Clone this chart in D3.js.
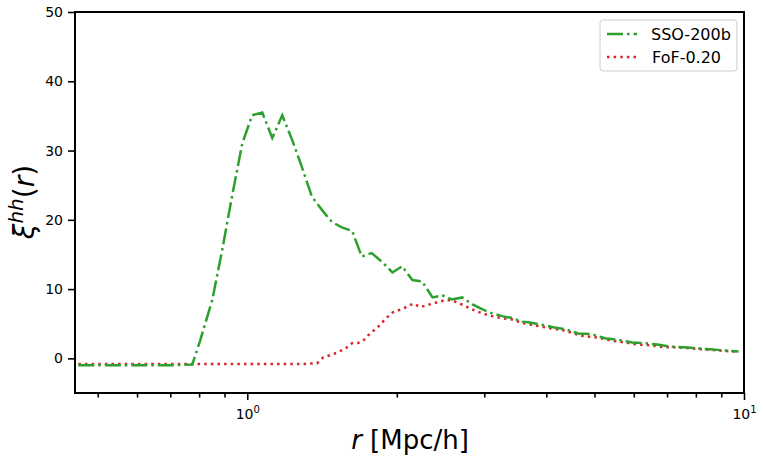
<!DOCTYPE html>
<html><head><meta charset="utf-8">
<script src="https://cdn.jsdelivr.net/npm/d3@7"></script>
<style>body{margin:0;background:#fff}svg{display:block}text{font-family:"DejaVu Sans",sans-serif}</style>
</head><body><svg id="c" width="764" height="464"></svg>
<script>
const ssoR = [0.457,0.50,0.55,0.60,0.65,0.70,0.775,0.804,0.85,0.89,0.933,0.977,1.023,1.072,1.123,1.176,1.232,1.29,1.35,1.415,1.48,1.55,1.626,1.70,1.78,1.87,1.96,2.05,2.15,2.25,2.36,2.47,2.58,2.71,2.84,2.97,3.11,3.26,3.42,3.58,3.68,3.89,4.13,4.37,4.63,4.94,5.25,5.55,5.96,6.27,6.69,7.10,7.55,8.05,8.55,9.09,9.75];
const ssoV = [-1.0,-1.0,-1.0,-1.0,-1.0,-1.0,-0.9,2.6,8.4,15.6,23.6,31.0,35.1,35.5,31.8,35.1,31.5,27.5,23.3,21.4,19.7,18.9,18.4,14.7,15.2,13.9,12.4,13.3,11.3,11.1,8.8,9.1,8.5,8.8,7.8,7.1,6.5,6.1,5.8,5.3,5.2,4.9,4.5,4.2,3.6,3.5,2.9,2.7,2.3,2.2,2.0,1.7,1.6,1.45,1.3,1.16,1.0];
const fofR = [0.457,0.55,0.65,0.75,0.85,1.0,1.15,1.30,1.383,1.42,1.50,1.575,1.627,1.67,1.71,1.75,1.83,1.91,1.96,2.06,2.16,2.23,2.36,2.50,2.58,2.72,2.87,3.06,3.26,3.43,3.54,3.76,4.11,4.37,4.67,5.09,5.38,5.74,6.09,6.47,6.88,7.33,7.80,8.28,8.83,9.38,9.75];
const fofV = [-0.8,-0.8,-0.8,-0.8,-0.8,-0.8,-0.8,-0.8,-0.7,0.1,0.7,1.4,2.2,2.2,2.5,3.3,4.5,5.9,6.6,7.2,7.9,7.4,7.9,8.4,8.4,7.7,6.9,6.2,5.8,5.6,5.2,4.8,4.3,4.0,3.3,3.0,2.6,2.3,2.0,1.9,1.6,1.6,1.45,1.3,1.16,1.0,1.0];
const yTicks = [0,10,20,30,40,50];
const xMajor = [1,10];
const xMinor = [0.5,0.6,0.7,0.8,0.9,2,3,4,5,6,7,8,9];
const seriesNames = ["SSO-200b","FoF-0.20"];
const colors = ["#2ca02c","#d62728"];

const svg = d3.select("#c");
const L=75,T=12,R=744,B=393;
const x = d3.scaleLog().domain([0.45,10]).range([L,R]);
const y = d3.scaleLinear().domain([-5,50]).range([B,T]);
const lw = 2.5;
const line = d3.line().x(d=>x(d[0])).y(d=>y(d[1]));

const g = svg.append("g");
g.append("path").datum(fofR.map((r,i)=>[r,fofV[i]])).attr("d",line)
 .attr("fill","none").attr("stroke",colors[1]).attr("stroke-width",lw)
 .attr("stroke-dasharray",`${lw} ${1.65*lw}`);
g.append("path").datum(ssoR.map((r,i)=>[r,ssoV[i]])).attr("d",line)
 .attr("fill","none").attr("stroke",colors[0]).attr("stroke-width",lw)
 .attr("stroke-dasharray",`${6.4*lw} ${1.6*lw} ${lw} ${1.6*lw}`);

// axes
const yAx = svg.append("g").attr("transform",`translate(${L},0)`)
 .call(d3.axisLeft(y).tickValues(yTicks).tickSize(7).tickPadding(5));
const xAx = svg.append("g").attr("transform",`translate(0,${B})`)
 .call(d3.axisBottom(x).tickValues(xMajor).tickSize(7).tickPadding(6).tickFormat(()=>""));
const xMin = svg.append("g").attr("transform",`translate(0,${B})`)
 .call(d3.axisBottom(x).tickValues(xMinor).tickSize(4.5).tickFormat(()=>""));
[yAx,xAx,xMin].forEach(a=>{a.select(".domain").remove();a.selectAll(".tick line").attr("stroke","#000").attr("stroke-width",1.6);});
yAx.selectAll(".tick text").attr("font-size",14).attr("fill","#000").attr("font-family","DejaVu Sans");
xAx.selectAll(".tick").each(function(d){
  const t=d3.select(this).append("text").attr("y",26).attr("text-anchor","middle").attr("fill","#000").attr("font-size",14);
  t.append("tspan").text("10");
  t.append("tspan").text(Math.round(Math.log10(d))).attr("font-size",10).attr("dy",-6);
});
svg.append("rect").attr("x",L).attr("y",T).attr("width",R-L).attr("height",B-T)
 .attr("fill","none").attr("stroke","#000").attr("stroke-width",2);

// labels
const xl = svg.append("text").attr("x",410).attr("y",449).attr("text-anchor","middle").attr("font-size",26).attr("fill","#000");
xl.append("tspan").text("r").attr("font-style","italic");
xl.append("tspan").text(" [Mpc/h]");
const yl = svg.append("text").attr("transform","translate(34,202) rotate(-90)").attr("text-anchor","middle").attr("font-size",28).attr("fill","#000");
yl.append("tspan").text("ξ").attr("font-style","italic");
yl.append("tspan").text("hh").attr("font-style","italic").attr("font-size",20).attr("dy",-11);
yl.append("tspan").text("(").attr("dy",11);
yl.append("tspan").text("r").attr("font-style","italic");
yl.append("tspan").text(")");

// legend
const lg = svg.append("g");
lg.append("rect").attr("x",600).attr("y",20).attr("width",137).attr("height",51).attr("rx",3)
 .attr("fill","#fff").attr("fill-opacity",0.8).attr("stroke","#ccc").attr("stroke-width",1);
seriesNames.forEach((n,i)=>{
  const yy = 34+i*23;
  lg.append("line").attr("x1",607).attr("x2",637).attr("y1",yy).attr("y2",yy)
   .attr("stroke",colors[i]).attr("stroke-width",lw)
   .attr("stroke-dasharray", i==0?`${6.4*lw} ${1.6*lw} ${lw} ${1.6*lw}`:`${lw} ${1.65*lw}`);
  lg.append("text").attr("x",i==0?651:652).attr("y",yy+5.5).attr("font-size",16).attr("fill","#000").text(n);
});
</script></body></html>
